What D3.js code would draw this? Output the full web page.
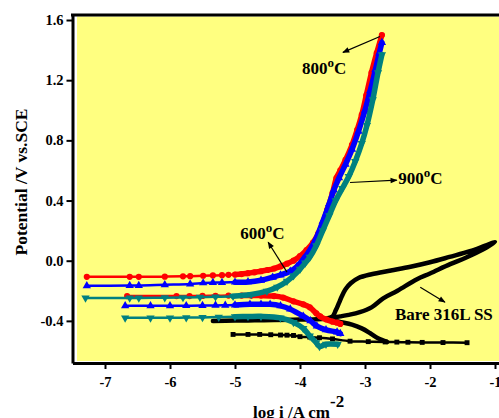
<!DOCTYPE html>
<html>
<head>
<meta charset="utf-8">
<script src="https://cdn.jsdelivr.net/npm/d3@7"></script>
<style>
  body { margin: 0; background: #fff; }
  svg text { font-family: "Liberation Serif", "Times New Roman", serif; font-weight: bold; }
</style>
</head>
<body>
<div class="container"></div>
<script>
const w = 499;
const h = 418;

// tick labels
const xTicks = [-7, -6, -5, -4, -3, -2, -1];
const yTicks = [-0.4, 0.0, 0.4, 0.8, 1.2, 1.6];

// log i, E (V vs SCE)
const red600Anodic = [[-7.28,-0.107],[-6.62,-0.107],[-6.48,-0.107],[-6.08,-0.106],[-5.80,-0.104],[-5.69,-0.103],[-5.49,-0.100],[-5.34,-0.098],[-5.20,-0.096],[-5.10,-0.094],[-5.00,-0.092],[-4.90,-0.089],[-4.80,-0.083],[-4.70,-0.077],[-4.60,-0.070],[-4.50,-0.062],[-4.40,-0.052],[-4.30,-0.038],[-4.20,-0.020],[-4.10,0.000],[-4.00,0.030],[-3.90,0.070],[-3.80,0.120],[-3.72,0.180],[-3.65,0.250],[-3.58,0.340],[-3.50,0.450],[-3.44,0.550],[-3.38,0.600],[-3.30,0.670],[-3.20,0.770],[-3.12,0.870],[-3.05,0.970],[-2.98,1.100],[-2.90,1.250],[-2.82,1.380],[-2.74,1.500]];
const red600Cathodic = [[-6.66,-0.235],[-5.90,-0.235],[-5.70,-0.235],[-5.50,-0.234],[-5.30,-0.233],[-5.10,-0.232],[-4.90,-0.232],[-4.75,-0.232],[-4.60,-0.232],[-4.40,-0.235],[-4.26,-0.245],[-4.10,-0.270],[-3.95,-0.290],[-3.85,-0.310],[-3.75,-0.350],[-3.69,-0.370],[-3.60,-0.390],[-3.50,-0.405],[-3.43,-0.412],[-3.38,-0.420]];

const blue800Anodic = [[-7.28,-0.167],[-6.62,-0.165],[-6.48,-0.165],[-6.08,-0.160],[-5.69,-0.155],[-5.49,-0.148],[-5.34,-0.146],[-5.20,-0.145],[-5.00,-0.143],[-4.80,-0.141],[-4.60,-0.130],[-4.42,-0.110],[-4.30,-0.095],[-4.15,-0.070],[-4.05,-0.040],[-3.95,0.010],[-3.85,0.070],[-3.75,0.150],[-3.65,0.260],[-3.55,0.380],[-3.48,0.470],[-3.40,0.550],[-3.30,0.640],[-3.20,0.740],[-3.10,0.860],[-3.00,1.000],[-2.92,1.130],[-2.84,1.270],[-2.78,1.380],[-2.74,1.450]];
const blue800Cathodic = [[-6.69,-0.300],[-6.30,-0.300],[-6.00,-0.300],[-5.75,-0.299],[-5.50,-0.298],[-5.30,-0.297],[-5.15,-0.296],[-5.00,-0.295],[-4.77,-0.290],[-4.60,-0.290],[-4.46,-0.290],[-4.30,-0.300],[-4.15,-0.322],[-3.95,-0.369],[-3.84,-0.400],[-3.74,-0.435],[-3.60,-0.460],[-3.43,-0.475],[-3.38,-0.485]];

const teal900Anodic = [[-7.30,-0.248],[-6.62,-0.248],[-6.48,-0.248],[-6.08,-0.246],[-5.80,-0.245],[-5.54,-0.243],[-5.30,-0.240],[-5.03,-0.236],[-4.75,-0.225],[-4.51,-0.203],[-4.35,-0.175],[-4.20,-0.136],[-4.10,-0.100],[-4.00,-0.056],[-3.92,-0.015],[-3.85,0.023],[-3.75,0.100],[-3.65,0.200],[-3.55,0.300],[-3.45,0.400],[-3.35,0.480],[-3.25,0.560],[-3.15,0.660],[-3.05,0.780],[-2.97,0.900],[-2.88,1.070],[-2.80,1.250],[-2.74,1.370]];
const teal900Cathodic = [[-6.69,-0.380],[-6.30,-0.380],[-6.00,-0.380],[-5.75,-0.378],[-5.50,-0.377],[-5.25,-0.375],[-5.00,-0.372],[-4.80,-0.371],[-4.60,-0.370],[-4.30,-0.380],[-4.10,-0.410],[-3.95,-0.450],[-3.85,-0.500],[-3.75,-0.545],[-3.70,-0.570],[-3.60,-0.555],[-3.42,-0.555]];

const bareLow = [[-5.03,-0.490],[-4.80,-0.490],[-4.62,-0.490],[-4.45,-0.492],[-4.30,-0.494],[-4.20,-0.495],[-4.10,-0.497],[-4.00,-0.505],[-3.85,-0.508],[-3.70,-0.512],[-3.50,-0.520],[-3.23,-0.535],[-2.95,-0.538],[-2.69,-0.540],[-2.51,-0.541],[-2.34,-0.542],[-2.12,-0.543],[-1.80,-0.544],[-1.43,-0.545]];
const bareLoop = [[-5.34,-0.400],[-5.00,-0.398],[-4.70,-0.396],[-4.40,-0.394],[-4.10,-0.392],[-3.80,-0.390],[-3.60,-0.385],[-3.50,-0.370],[-3.45,-0.330],[-3.40,-0.280],[-3.36,-0.240],[-3.30,-0.190],[-3.22,-0.150],[-3.10,-0.115],[-2.90,-0.090],[-2.60,-0.065],[-2.30,-0.040],[-2.00,-0.010],[-1.70,0.025],[-1.385,0.063],[-1.15,0.100],[-1.00,0.123],[-1.18,0.076],[-1.45,0.020],[-1.69,-0.023],[-2.00,-0.085],[-2.20,-0.123],[-2.50,-0.200],[-2.72,-0.250],[-2.90,-0.310],[-3.08,-0.342],[-3.25,-0.360],[-3.38,-0.370],[-3.50,-0.378],[-3.58,-0.385],[-3.40,-0.405],[-3.20,-0.425],[-3.05,-0.450],[-2.92,-0.482],[-2.80,-0.515],[-2.66,-0.540]];

const labels = [
  { text: "800", at: [-3.97, 1.24], arrow: [[-2.77, 1.49], [-3.34, 1.385]] },
  { text: "900", at: [-2.49, 0.508], arrow: [[-3.23, 0.52], [-2.51, 0.535]] },
  { text: "600", at: [-4.92, 0.143], arrow: [[-4.20, -0.076], [-4.49, 0.123]] },
  { text: "Bare 316L SS", at: [-2.54, -0.395], arrow: [[-2.15, -0.176], [-1.77, -0.276]] }
];

const x = d3.scaleLinear().domain([-7.5, -0.5]).range([72.5, 527.5]);
const y = d3.scaleLinear().domain([-0.68, 1.63]).range([363, 15.5]);

const svg = d3.select('.container').append('svg')
    .attr('width', w)
    .attr('height', h);

const defs = svg.append('defs');
defs.append('marker')
    .attr('id', 'head')
    .attr('viewBox', '0 0 10 10')
    .attr('refX', 9).attr('refY', 5)
    .attr('markerWidth', 9).attr('markerHeight', 7)
    .attr('markerUnits', 'userSpaceOnUse')
    .attr('orient', 'auto')
    .append('path')
      .attr('d', 'M0,1 L10,5 L0,9 Z')
      .attr('fill', '#000');

svg.append('rect')
    .attr('x', 77).attr('y', 16.5)
    .attr('width', w).attr('height', 344.5)
    .attr('fill', '#ffff80');

const line = d3.line()
    .x(d => x(d[0])).y(d => y(d[1]))
    .curve(d3.curveCatmullRom.alpha(0.5));

const series = [
  { data: red600Anodic,    color: '#ff0000', symbol: d3.symbolCircle },
  { data: red600Cathodic,  color: '#ff0000', symbol: d3.symbolCircle },
  { data: blue800Anodic,   color: '#0000ff', symbol: d3.symbolTriangle },
  { data: blue800Cathodic, color: '#0000ff', symbol: d3.symbolTriangle },
  { data: teal900Cathodic, color: '#008080', symbol: d3.symbolTriangle, flip: true },
  { data: teal900Anodic,   color: '#008080', symbol: d3.symbolTriangle, flip: true }
];

const plot = svg.append('g');

// black bare steel first, underneath
plot.append('path')
    .attr('d', line(bareLoop))
    .attr('fill', 'none')
    .attr('stroke', '#000')
    .attr('stroke-width', 4.5)
    .attr('stroke-linejoin', 'round')
    .attr('stroke-linecap', 'round');
plot.append('path')
    .attr('d', line(bareLow))
    .attr('fill', 'none')
    .attr('stroke', '#000')
    .attr('stroke-width', 2.5);
plot.selectAll('.sq')
    .data(bareLow)
    .enter()
    .append('path')
      .attr('d', d3.symbol(d3.symbolSquare, 24))
      .attr('transform', d => `translate(${x(d[0])},${y(d[1])})`)
      .attr('fill', '#000');

series.forEach(s => {
  plot.append('path')
      .attr('d', line(s.data))
      .attr('fill', 'none')
      .attr('stroke', s.color)
      .attr('stroke-width', 2.5);
  plot.append('path')
      .attr('d', line(s.data.filter(d => d[0] > -5.1)))
      .attr('fill', 'none')
      .attr('stroke', s.color)
      .attr('stroke-width', 5.5)
      .attr('stroke-linejoin', 'round')
      .attr('stroke-linecap', 'round');
  plot.selectAll(null)
      .data(s.data)
      .enter()
      .append('path')
        .attr('d', d3.symbol(s.symbol, 30))
        .attr('transform', d => `translate(${x(d[0])},${y(d[1])})` + (s.flip ? ' rotate(180)' : ''))
        .attr('fill', s.color);
});

// axes
const xAxis = d3.axisBottom(x).tickValues(xTicks).tickFormat(d => String(d))
    .tickSize(6).tickSizeOuter(0).tickPadding(8);
const yAxis = d3.axisLeft(y).tickValues(yTicks).tickFormat(d => d.toFixed(1))
    .tickSize(6).tickSizeOuter(0).tickPadding(3);

const gx = svg.append('g')
    .attr('transform', `translate(0, 363)`)
    .call(xAxis);
const gy = svg.append('g')
    .attr('transform', `translate(72.5, 0)`)
    .call(yAxis);

[gx, gy].forEach(g => {
  g.select('.domain').attr('stroke-width', 3);
  g.selectAll('.tick line').attr('stroke-width', 2);
  g.selectAll('.tick text')
      .style('font-size', '14.5px')
      .attr('fill', '#000');
});

svg.append('line')
    .attr('x1', 71).attr('x2', w)
    .attr('y1', 15).attr('y2', 15)
    .attr('stroke', '#000')
    .attr('stroke-width', 3);

// annotations
const ann = svg.append('g');
labels.forEach(l => {
  ann.append('line')
      .attr('x1', x(l.arrow[0][0])).attr('y1', y(l.arrow[0][1]))
      .attr('x2', x(l.arrow[1][0])).attr('y2', y(l.arrow[1][1]))
      .attr('stroke', '#000')
      .attr('stroke-width', 1.2)
      .attr('marker-end', 'url(#head)');
  const t = ann.append('text')
      .attr('x', x(l.at[0]))
      .attr('y', y(l.at[1]))
      .style('font-size', '17px')
      .text(l.text);
  if (l.text !== "Bare 316L SS") {
    t.append('tspan').attr('dy', -7).style('font-size', '13px').text('o');
    t.append('tspan').attr('dy', 7).text('C');
  }
});

svg.append('text')
    .attr('transform', 'rotate(-90)')
    .attr('x', -182)
    .attr('y', 27)
    .attr('text-anchor', 'middle')
    .style('font-size', '17.5px')
    .text('Potential /V vs.SCE');

const xl = svg.append('text')
    .attr('x', 253)
    .attr('y', 418)
    .style('font-size', '17px')
    .text('log i /A cm');
xl.append('tspan').attr('dy', -11).style('font-size', '17px').text('-2');
</script>
</body>
</html>
